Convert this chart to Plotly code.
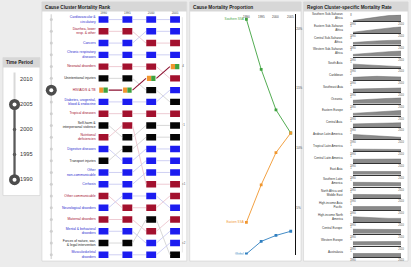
import plotly.graph_objects as go

W, H = 411, 267

# ---------------- data ----------------
time_years = [1990, 1995, 2000, 2005, 2010]
time_selected = [1990, 2005]

rank_years = ["1990", "1995", "2000", "2005"]
cause_labels = [
    "Cardiovascular &<br>circulatory", "Diarrhea, lower<br>resp. & other", "Cancers",
    "Chronic respiratory<br>diseases", "Neonatal disorders", "Unintentional injuries",
    "HIV/AIDS & TB", "Diabetes, urogenital,<br>blood & endocrine", "Tropical diseases",
    "Self-harm &<br>interpersonal violence", "Nutritional<br>deficiencies", "Digestive diseases",
    "Transport injuries", "Other<br>non-communicable", "Cirrhosis", "Other communicable",
    "Neurological disorders", "Maternal disorders", "Mental & behavioral<br>disorders",
    "Forces of nature, war,<br>& legal intervention", "Musculoskeletal<br>disorders",
]
cause_group = ["ncd", "cmnn", "ncd", "ncd", "cmnn", "inj", "cmnn", "ncd", "cmnn", "inj", "cmnn",
               "ncd", "inj", "ncd", "ncd", "cmnn", "ncd", "cmnn", "ncd", "inj", "ncd"]
cause_ranks = [
    [1, 1, 1, 1], [2, 2, 3, 3], [3, 3, 2, 2], [4, 4, 4, 4], [5, 5, 5, 6], [6, 6, 7, 8],
    [7, 7, 6, 5], [8, 8, 8, 7], [9, 9, 9, 9], [10, 11, 10, 10], [11, 10, 15, 15],
    [12, 13, 12, 12], [13, 12, 11, 11], [14, 14, 13, 13], [15, 15, 14, 14], [16, 17, 17, 16],
    [17, 16, 16, 17], [18, 18, 19, 18], [19, 19, 20, 19], [20, 20, 18, 21], [21, 21, 21, 20],
]
highlight_cause = 6
bracket_labels = ["4", "·1", "c1", "c2"]
bracket_ranks = [5, 10, 15, 20]

prop_years = [1990, 1995, 2000, 2005]
prop_names = ["Southern SSA", "Eastern SSA", "Global"]
prop_green = [20.8, 16.6, 13.2, 11.25]
prop_orange = [3.75, 6.9, 9.6, 11.25]
prop_blue = [1.1, 2.15, 2.65, 3.0]
prop_ticks = [5, 10, 15, 20]
prop_ticktext = ["5%", "10%", "15%", "20%"]

region_names = [
    "Southern Sub-Saharan<br>Africa", "Eastern Sub-Saharan<br>Africa", "Central Sub-Saharan<br>Africa",
    "Western Sub-Saharan<br>Africa", "South Asia", "Caribbean", "Southeast Asia", "Oceania",
    "Eastern Europe", "Central Asia", "Andean Latin America", "Tropical Latin America",
    "Central Latin America", "East Asia", "Southern Latin<br>America", "North Africa and<br>Middle East",
    "High-income Asia<br>Pacific", "High-income North<br>America", "Central Europe", "Western Europe",
    "Australasia",
]
rate_years = [1990, 1995, 2000, 2005, 2010]
rate_values = [
    [0.8, 2.5, 5.0, 7.0, 7.9], [0.6, 1.6, 2.8, 3.9, 4.9], [1.4, 2.0, 2.4, 2.7, 2.8],
    [1.0, 1.5, 2.0, 2.3, 2.6], [0.66, 0.58, 0.48, 0.36, 0.26], [0.9, 1.1, 1.2, 1.1, 1.0],
    [0.45, 0.5, 0.55, 0.6, 0.62], [0.55, 0.65, 0.75, 0.85, 0.95], [0.35, 0.45, 0.6, 0.7, 0.8],
    [0.55, 0.6, 0.65, 0.7, 0.72], [1.5, 1.3, 1.0, 0.8, 0.6], [0.3, 0.3, 0.28, 0.26, 0.25],
    [0.55, 0.58, 0.6, 0.6, 0.6], [0.5, 0.5, 0.52, 0.52, 0.5], [0.65, 0.65, 0.62, 0.6, 0.6],
    [0.6, 0.58, 0.56, 0.55, 0.55], [0.55, 0.55, 0.55, 0.55, 0.55], [0.8, 0.7, 0.6, 0.55, 0.55],
    [0.7, 0.7, 0.68, 0.66, 0.65], [0.6, 0.62, 0.64, 0.64, 0.64], [0.6, 0.6, 0.6, 0.6, 0.6],
]
rate_axis_max = [8, 5, 4, 3, 1, 2, 1, 1, 1, 1, 2, 1, 1, 1, 1, 1, 1, 1, 1, 1, 1]

# ---------------- styles ----------------
FONT = "Liberation Sans, Arial, sans-serif"
SQ = {"ncd": "#1c1cf0", "cmnn": "#a3112e", "inj": "#050505"}
LN = {"ncd": "#c9cbf2", "cmnn": "#ecc5ce", "inj": "#d4d4d4"}
TX = {"ncd": "#2b2bd0", "cmnn": "#a3112e", "inj": "#222222"}
HL_LINE = "#8b1030"
ORANGE, GREEN = "#f0962e", "#3fa33f"


def xd(a, b):
    return [a / W, b / W]


def yd(top, bot):
    return [1 - bot / H, 1 - top / H]


fig = go.Figure()
layout = dict(
    width=W, height=H, margin=dict(l=0, r=0, t=0, b=0),
    paper_bgcolor="#ececec", plot_bgcolor="rgba(0,0,0,0)",
    showlegend=False, hovermode=False, barmode="overlay",
    font=dict(family=FONT, size=4, color="#333"),
)
shapes, annotations = [], []

# ---------------- panels ----------------
panels = [  # x0, x1, y0, y1, header height, title
    (0, 37.5, 56, 195, 10, "Time Period"),
    (39.5, 186.5, 0, 261, 9.5, "Cause Cluster Mortality Rank"),
    (189.5, 302.5, 0, 261, 9.5, "Cause Mortality Proportion"),
    (305, 411, 0, 261, 9.5, "Region Cluster-specific Mortality Rate"),
]
for x0, x1, y0, y1, hh, title in panels:
    shapes.append(dict(type="rect", xref="paper", yref="paper", x0=x0 / W, x1=x1 / W,
                       y0=1 - y1 / H, y1=1 - y0 / H, fillcolor="white",
                       line=dict(color="#cfcfcf", width=0.6), layer="below"))
    shapes.append(dict(type="rect", xref="paper", yref="paper", x0=x0 / W, x1=x1 / W,
                       y0=1 - (y0 + hh) / H, y1=1 - y0 / H, fillcolor="#d7d7d7",
                       line=dict(width=0), layer="below"))
    annotations.append(dict(text="<b>%s</b>" % title, xref="paper", yref="paper",
                            x=(x0 + 1.5) / W, y=1 - (y0 + hh / 2 + 0.3) / H, xanchor="left",
                            yanchor="middle", showarrow=False,
                            font=dict(size=4.7, color="#222", family=FONT)))

# ---------------- time slider ----------------
layout["xaxis"] = dict(domain=xd(0, 37.5), range=[0, 37.5], visible=False, fixedrange=True)
layout["yaxis"] = dict(domain=yd(67, 194), range=[1987.03, 2012.18], visible=False)
SX = 11.7
fig.add_trace(go.Scatter(x=[SX, SX], y=[2011.4, time_years[0]], mode="lines",
                         line=dict(color="#d9d9d9", width=2), xaxis="x", yaxis="y"))
fig.add_trace(go.Scatter(x=[SX, SX], y=[min(time_selected), max(time_selected)], mode="lines",
                         line=dict(color="#5a5a5a", width=2.2), xaxis="x", yaxis="y"))
inner = [y for y in time_years if min(time_selected) < y < max(time_selected)]
fig.add_trace(go.Scatter(x=[SX] * len(inner), y=inner, mode="markers",
                         marker=dict(size=3.5, color="#5a5a5a"), xaxis="x", yaxis="y"))
fig.add_trace(go.Scatter(x=[SX] * len(time_selected), y=time_selected, mode="markers",
                         marker=dict(size=11, color="#4d4d4d"), xaxis="x", yaxis="y"))
fig.add_trace(go.Scatter(x=[SX] * len(time_selected), y=time_selected, mode="markers",
                         marker=dict(size=4, color="white"), xaxis="x", yaxis="y"))
fig.add_trace(go.Scatter(x=[17.3] * len(time_years), y=time_years, mode="text",
                         text=[str(y) for y in time_years], textposition="middle right",
                         textfont=dict(size=5.6, color="#333"), xaxis="x", yaxis="y"))

# ---------------- rank panel ----------------
C0, DC = 102.0, 24.2
R0, DR = 17.7, 11.85
layout["xaxis2"] = dict(domain=xd(39.5, 186.5), range=[(39.5 - C0) / DC, (186.5 - C0) / DC],
                        visible=False, anchor="y2")
layout["yaxis2"] = dict(domain=yd(9.5, 261), range=[1 + (261 - R0) / DR, 1 + (9.5 - R0) / DR],
                        visible=False, anchor="x2")
ncol = len(rank_years)
BW, BH = 10 / DC, 6.5 / DR
HW = BW / 2 + 0.01

# connecting segments (edge to edge)
for i, ranks in enumerate(cause_ranks):
    xs, ys = [], []
    for c in range(ncol - 1):
        xs += [c + HW, c + 1 - HW, None]
        ys += [ranks[c], ranks[c + 1], None]
    hl = i == highlight_cause
    fig.add_trace(go.Scatter(x=xs, y=ys, mode="lines",
                             line=dict(color=HL_LINE if hl else LN[cause_group[i]],
                                       width=1.1 if hl else 0.9),
                             xaxis="x2", yaxis="y2"))

# squares
for g in ["ncd", "cmnn", "inj"]:
    xs, bs = [], []
    for i, ranks in enumerate(cause_ranks):
        if cause_group[i] != g or i == highlight_cause:
            continue
        for c in range(ncol):
            xs.append(c)
            bs.append(ranks[c] - BH / 2)
    fig.add_trace(go.Bar(x=xs, y=[BH] * len(xs), base=bs, width=BW,
                         marker=dict(color=SQ[g], line=dict(width=0)), xaxis="x2", yaxis="y2"))
hr = cause_ranks[highlight_cause]
hbw = 0.36 / 2
hbh = 5.2 / DR
fig.add_trace(go.Bar(x=[c - hbw / 2 for c in range(ncol)], y=[hbh] * ncol,
                     base=[r - hbh / 2 for r in hr], width=hbw,
                     marker=dict(color=ORANGE, line=dict(width=0)), xaxis="x2", yaxis="y2"))
fig.add_trace(go.Bar(x=[c + hbw / 2 for c in range(ncol)], y=[hbh] * ncol,
                     base=[r - hbh / 2 for r in hr], width=hbw,
                     marker=dict(color=GREEN, line=dict(width=0)), xaxis="x2", yaxis="y2"))

# row labels
label_ranks = [r[0] for r in cause_ranks]
for g in ["ncd", "cmnn", "inj"]:
    idx = [i for i in range(len(cause_labels)) if cause_group[i] == g]
    fig.add_trace(go.Scatter(x=[-0.33] * len(idx), y=[label_ranks[i] for i in idx], mode="text",
                             text=[cause_labels[i] for i in idx], textposition="middle left",
                             textfont=dict(size=3.4, color=TX[g], family=FONT),
                             xaxis="x2", yaxis="y2"))
# column year labels
fig.add_trace(go.Scatter(x=list(range(ncol)), y=[1 + (11.6 - R0) / DR] * ncol, mode="text",
                         text=rank_years, textfont=dict(size=3, color="#444"),
                         xaxis="x2", yaxis="y2"))
# left rank slider
LX = (49 - C0) / DC
nr = len(cause_labels)
fig.add_trace(go.Scatter(x=[LX, LX], y=[0.55, nr + 0.35], mode="lines",
                         line=dict(color="#dcdcdc", width=1.5), xaxis="x2", yaxis="y2"))
fig.add_trace(go.Scatter(x=[LX] * nr, y=list(range(1, nr + 1)), mode="markers",
                         marker=dict(size=3, color="#cfcfcf"), xaxis="x2", yaxis="y2"))
fig.add_trace(go.Scatter(x=[LX], y=[label_ranks[highlight_cause]], mode="markers",
                         marker=dict(size=11, color="#4d4d4d"), xaxis="x2", yaxis="y2"))
fig.add_trace(go.Scatter(x=[LX], y=[label_ranks[highlight_cause]], mode="markers",
                         marker=dict(size=4, color="white"), xaxis="x2", yaxis="y2"))
# right bracket
BX = (182 - C0) / DC
fig.add_trace(go.Scatter(x=[BX, BX], y=[0.8, nr - 0.2], mode="lines",
                         line=dict(color="#e0e0e0", width=0.8), xaxis="x2", yaxis="y2"))
fig.add_trace(go.Scatter(x=[BX] * len(bracket_ranks), y=bracket_ranks, mode="text",
                         text=bracket_labels, textposition="middle right",
                         textfont=dict(size=3, color="#555"), xaxis="x2", yaxis="y2"))

# ---------------- proportion panel ----------------
PX0, PDX = 247.0, 3.0  # pixel of 1990, px per year
PV_TOP, PDV = 27.0, 12.0  # pixel of 20, px per unit
layout["xaxis3"] = dict(domain=xd(189.5, 302.5),
                        range=[1990 + (189.5 - PX0) / PDX, 1990 + (302.5 - PX0) / PDX],
                        visible=False, anchor="y3")
layout["yaxis3"] = dict(domain=yd(12, 254.5),
                        range=[20 - (254.5 - PV_TOP) / PDV, 20 + (PV_TOP - 12) / PDV],
                        anchor="free", position=296 / W, side="right", showline=True,
                        linecolor="#111", linewidth=1, ticks="", showgrid=False, zeroline=False,
                        tickvals=prop_ticks, ticktext=prop_ticktext,
                        tickfont=dict(size=3, color="#444"), overlaying=None)
for name, vals, col in zip(prop_names, [prop_green, prop_orange, prop_blue],
                           [GREEN, ORANGE, "#2f7fc0"]):
    fig.add_trace(go.Scatter(x=prop_years, y=vals, mode="lines+markers+text",
                             text=[name] + [""] * (len(vals) - 1), textposition="middle left",
                             textfont=dict(size=3, color=col),
                             line=dict(color=col, width=0.9),
                             marker=dict(size=2.8, color=col, symbol="square"),
                             xaxis="x3", yaxis="y3"))
for y in prop_years:
    annotations.append(dict(text=str(y), xref="x3", yref="paper", x=y, y=1 - 11 / H,
                            showarrow=False, font=dict(size=3, color="#444")))

# ---------------- region sparklines ----------------
for k, (name, vals, vmax) in enumerate(zip(region_names, rate_values, rate_axis_max)):
    n = k + 4
    yc = 14 + 11.9 * k
    layout["xaxis%d" % n] = dict(domain=xd(355, 404), range=[1990, 2010], anchor="y%d" % n,
                                 showline=True, linecolor="#333", linewidth=0.8, ticks="",
                                 showgrid=False, zeroline=False, tickvals=[1990, 2010],
                                 ticktext=["1990", "2010"], tickfont=dict(size=2.6, color="#555"))
    layout["yaxis%d" % n] = dict(domain=yd(yc - 1.2, yc + 5.3), range=[0, vmax],
                                 anchor="x%d" % n, showline=False, ticks="", showgrid=False,
                                 zeroline=False, tickvals=[vmax], ticktext=[str(vmax)],
                                 tickfont=dict(size=2.6, color="#555"))
    fig.add_trace(go.Scatter(x=rate_years, y=vals, mode="lines", fill="tozeroy",
                             fillcolor="#8a8a8a", line=dict(color="#6a6a6a", width=0.5),
                             xaxis="x%d" % n, yaxis="y%d" % n))
    annotations.append(dict(text=name, xref="paper", yref="paper", x=347.5 / W, y=1 - yc / H,
                            xanchor="right", yanchor="middle", align="right", showarrow=False,
                            font=dict(size=3, color="#333")))

layout["shapes"] = shapes
layout["annotations"] = annotations
fig.update_layout(**layout)
fig.write_html("out.html")
